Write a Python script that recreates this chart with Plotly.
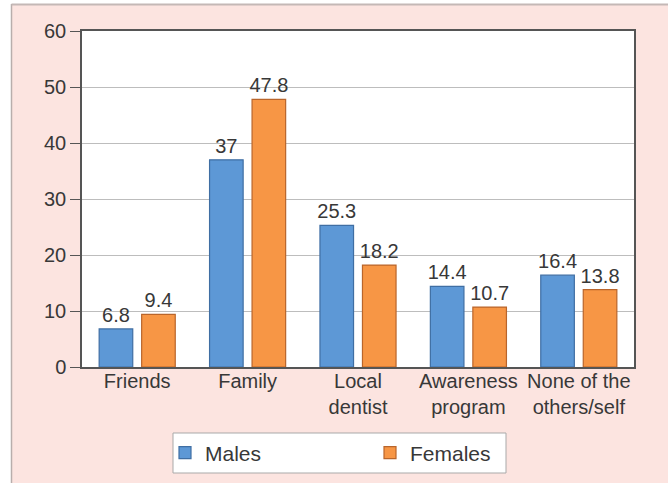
import plotly.graph_objects as go

categories = ["Friends", "Family", "Local<br>dentist", "Awareness<br>program", "None of the<br>others/self"]
males = [6.8, 37, 25.3, 14.4, 16.4]
females = [9.4, 47.8, 18.2, 10.7, 13.8]
y_ticks = [0, 10, 20, 30, 40, 50, 60]

W, H = 668, 483
ML, MR, MT, MB = 82, 34, 31, 116
PW, PH = W - ML - MR, H - MT - MB


def px_x(px):
    return (px - ML) / PW


def px_y(py):
    return (H - MB - py) / PH


TXT = "#383838"
FAMILY = "Liberation Sans, Arial, sans-serif"
font = dict(family=FAMILY, size=20, color=TXT)
tickfont = dict(family=FAMILY, size=20, color=TXT)

fig = go.Figure()
fig.add_trace(go.Bar(
    x=categories, y=males, name="Males",
    marker=dict(color="#5d98d6", line=dict(color="#3f6ea3", width=1.2)),
    text=[f"{v:g}" for v in males], textposition="outside", constraintext="none",
    textfont=dict(size=20, color=TXT), cliponaxis=False,
))
fig.add_trace(go.Bar(
    x=categories, y=females, name="Females",
    marker=dict(color="#f79645", line=dict(color="#b9652b", width=1.2)),
    text=[f"{v:g}" for v in females], textposition="outside", constraintext="none",
    textfont=dict(size=20, color=TXT), cliponaxis=False,
))

shapes = [
    # white strips and frame lines along the left and top edges
    dict(type="rect", xref="paper", yref="paper", x0=px_x(-2), x1=px_x(11),
         y0=px_y(H + 2), y1=px_y(-2), fillcolor="white", line=dict(width=0), layer="below"),
    dict(type="rect", xref="paper", yref="paper", x0=px_x(-2), x1=px_x(W + 2),
         y0=px_y(4), y1=px_y(-2), fillcolor="white", line=dict(width=0), layer="below"),
    dict(type="line", xref="paper", yref="paper", x0=px_x(11.5), x1=px_x(11.5),
         y0=px_y(H), y1=px_y(4), line=dict(color="#b8aeac", width=1.5)),
    dict(type="line", xref="paper", yref="paper", x0=px_x(11.5), x1=px_x(W),
         y0=px_y(4.5), y1=px_y(4.5), line=dict(color="#c4b8b6", width=2)),
    # legend box
    dict(type="rect", xref="paper", yref="paper", x0=px_x(173), x1=px_x(506),
         y0=px_y(473), y1=px_y(433), fillcolor="white",
         line=dict(color="#a9a9a9", width=1), layer="below"),
]

fig.update_layout(
    width=W, height=H,
    margin=dict(l=ML, r=MR, t=MT, b=MB, autoexpand=False),
    paper_bgcolor="#fce4e0", plot_bgcolor="white",
    font=font,
    barmode="group", bargap=0.23, bargroupgap=0.21,
    showlegend=True,
    legend=dict(orientation="h", x=px_x(165), y=px_y(453), xanchor="left", yanchor="middle",
                bgcolor="rgba(0,0,0,0)", borderwidth=0, entrywidth=160,
                font=dict(size=21, color=TXT), itemwidth=30),
    shapes=shapes,
    xaxis=dict(showline=True, linecolor="#555555", linewidth=1.5, mirror=True,
               ticks="", tickfont=font, ticklabelstandoff=-5, fixedrange=True),
    yaxis=dict(range=[0, 60], tickvals=y_ticks, showline=True, linecolor="#555555",
               linewidth=1.5, mirror=True, ticks="outside", ticklen=10, tickcolor="#555555",
               gridcolor="#bdbdbd", gridwidth=1, zeroline=False, tickfont=tickfont,
               fixedrange=True),
)

fig.write_html("out.html")
